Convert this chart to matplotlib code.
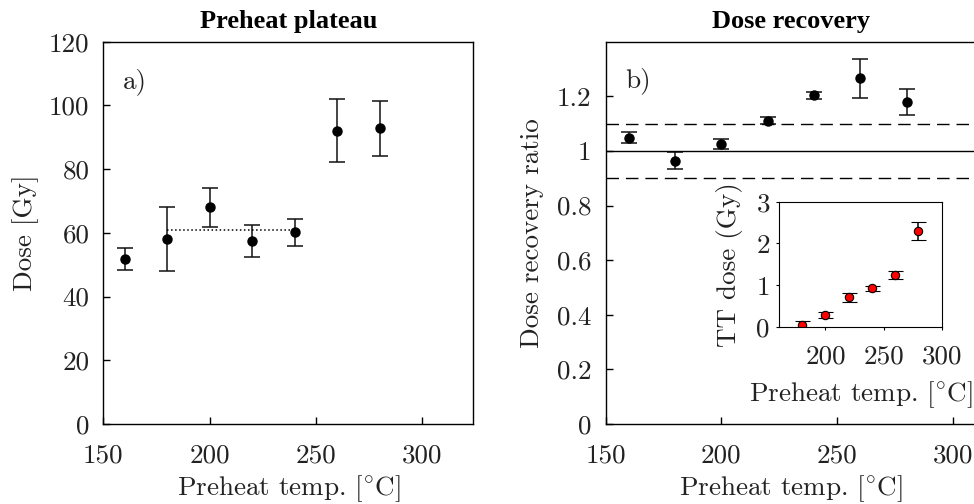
import matplotlib
matplotlib.use("Agg")
import matplotlib.pyplot as plt
from matplotlib.ticker import FuncFormatter

plt.rcParams["font.family"] = "cmr10"
plt.rcParams["mathtext.fontset"] = "cm"
plt.rcParams["axes.formatter.use_mathtext"] = True
plt.rcParams["axes.unicode_minus"] = False

# Preheat plateau (a)
temps = [160, 180, 200, 220, 240, 260, 280]
plateau_dose = [51.8, 58.0, 68.0, 57.4, 60.2, 92.1, 92.8]
plateau_err = [3.5, 10.1, 6.2, 5.0, 4.2, 9.8, 8.7]
plateau_range = [180, 240]
plateau_mean = 60.9

# Dose recovery (b)
recovery = [1.049, 0.965, 1.026, 1.111, 1.204, 1.266, 1.180]
recovery_err = [0.020, 0.030, 0.018, 0.014, 0.013, 0.071, 0.047]
recovery_limits = [0.9, 1.1]

# Thermal transfer dose (inset)
tt_temps = [180, 200, 220, 240, 260, 280]
tt_dose = [0.04, 0.29, 0.71, 0.93, 1.25, 2.30]
tt_err = [0.11, 0.07, 0.10, 0.06, 0.10, 0.21]

xlab = r"Preheat temp. [$^{\circ}$C]"
fs = 19.5
txt = "#222222"
fmt = FuncFormatter(lambda v, p: f"{v:g}")

fig = plt.figure(figsize=(9.74, 5.04), dpi=100)
ax1 = fig.add_axes([0.1061, 0.1587, 0.3799, 0.7585])
ax2 = fig.add_axes([0.6217, 0.1587, 0.3805, 0.7585])
ax3 = fig.add_axes([0.7998, 0.3512, 0.1670, 0.2486])

eb = dict(fmt="o", color="black", ecolor="#111111", elinewidth=1.1,
          capsize=5.6, capthick=1.1, markersize=6.5)

ax1.errorbar(temps, plateau_dose, yerr=plateau_err, **eb)
ax1.plot(plateau_range, [plateau_mean, plateau_mean], ":", color="black", lw=1.1)
ax1.set_xlim(150, 324)
ax1.set_ylim(0, 120)
ax1.set_xticks([150, 200, 250, 300])
ax1.set_yticks(range(0, 121, 20))
ax1.set_title("Preheat plateau", fontsize=19, fontweight="bold",
              family="Liberation Serif", pad=10)
ax1.set_xlabel(xlab, fontsize=fs, color=txt)
ax1.set_ylabel("Dose [Gy]", fontsize=fs, color=txt)
ax1.text(159, 105.5, "a)", fontsize=fs, va="baseline", color=txt)

ax2.errorbar(temps, recovery, yerr=recovery_err, **eb)
ax2.axhline(1.0, color="black", lw=1.0)
for lim in recovery_limits:
    ax2.axhline(lim, color="black", lw=1.0, dashes=(9, 5))
ax2.set_xlim(150, 310)
ax2.set_ylim(0, 1.4)
ax2.set_xticks([150, 200, 250, 300])
ax2.set_yticks([0, 0.2, 0.4, 0.6, 0.8, 1.0, 1.2])
ax2.set_title("Dose recovery", fontsize=19, fontweight="bold",
              family="Liberation Serif", pad=10)
ax2.set_xlabel(xlab, fontsize=fs, color=txt)
ax2.set_ylabel("Dose recovery ratio", fontsize=fs, color=txt)
ax2.text(158.4, 1.233, "b)", fontsize=fs, va="baseline", color=txt)

for ax in (ax1, ax2):
    ax.tick_params(direction="in", length=5, width=1, labelsize=fs,
                   labelcolor=txt, pad=10)
    ax.tick_params(axis="x", pad=14)
    ax.xaxis.set_major_formatter(fmt)
    ax.yaxis.set_major_formatter(fmt)
    for s in ax.spines.values():
        s.set_linewidth(1.0)
ax1.yaxis.set_label_coords(-0.175, 0.5)
ax2.yaxis.set_label_coords(-0.165, 0.5)
ax1.xaxis.set_label_coords(0.5, -0.128)
ax2.xaxis.set_label_coords(0.5, -0.128)

# inset with the thermal transfer dose
ax3.errorbar(tt_temps, tt_dose, yerr=tt_err, fmt="o", color="red", mec="black",
             mew=0.8, ecolor="black", elinewidth=1.1, capsize=5.4, capthick=1.1,
             markersize=6)
ax3.set_xlim(160, 300)
ax3.set_ylim(0, 3)
ax3.set_xticks([200, 250, 300])
ax3.set_yticks([0, 1, 2, 3])
ax3.xaxis.set_major_formatter(fmt)
ax3.yaxis.set_major_formatter(fmt)
ax3.tick_params(direction="out", length=2.5, width=0.8, labelsize=fs,
                labelcolor=txt, pad=4)
ax3.tick_params(axis="x", pad=10)
ax3.set_xlabel(xlab, fontsize=fs, color=txt)
ax3.set_ylabel("TT dose (Gy)", fontsize=fs, color=txt)
ax3.yaxis.set_label_coords(-0.22, 0.5)
ax3.xaxis.set_label_coords(0.5, -0.42)

fig.savefig("out.png", dpi=100)
